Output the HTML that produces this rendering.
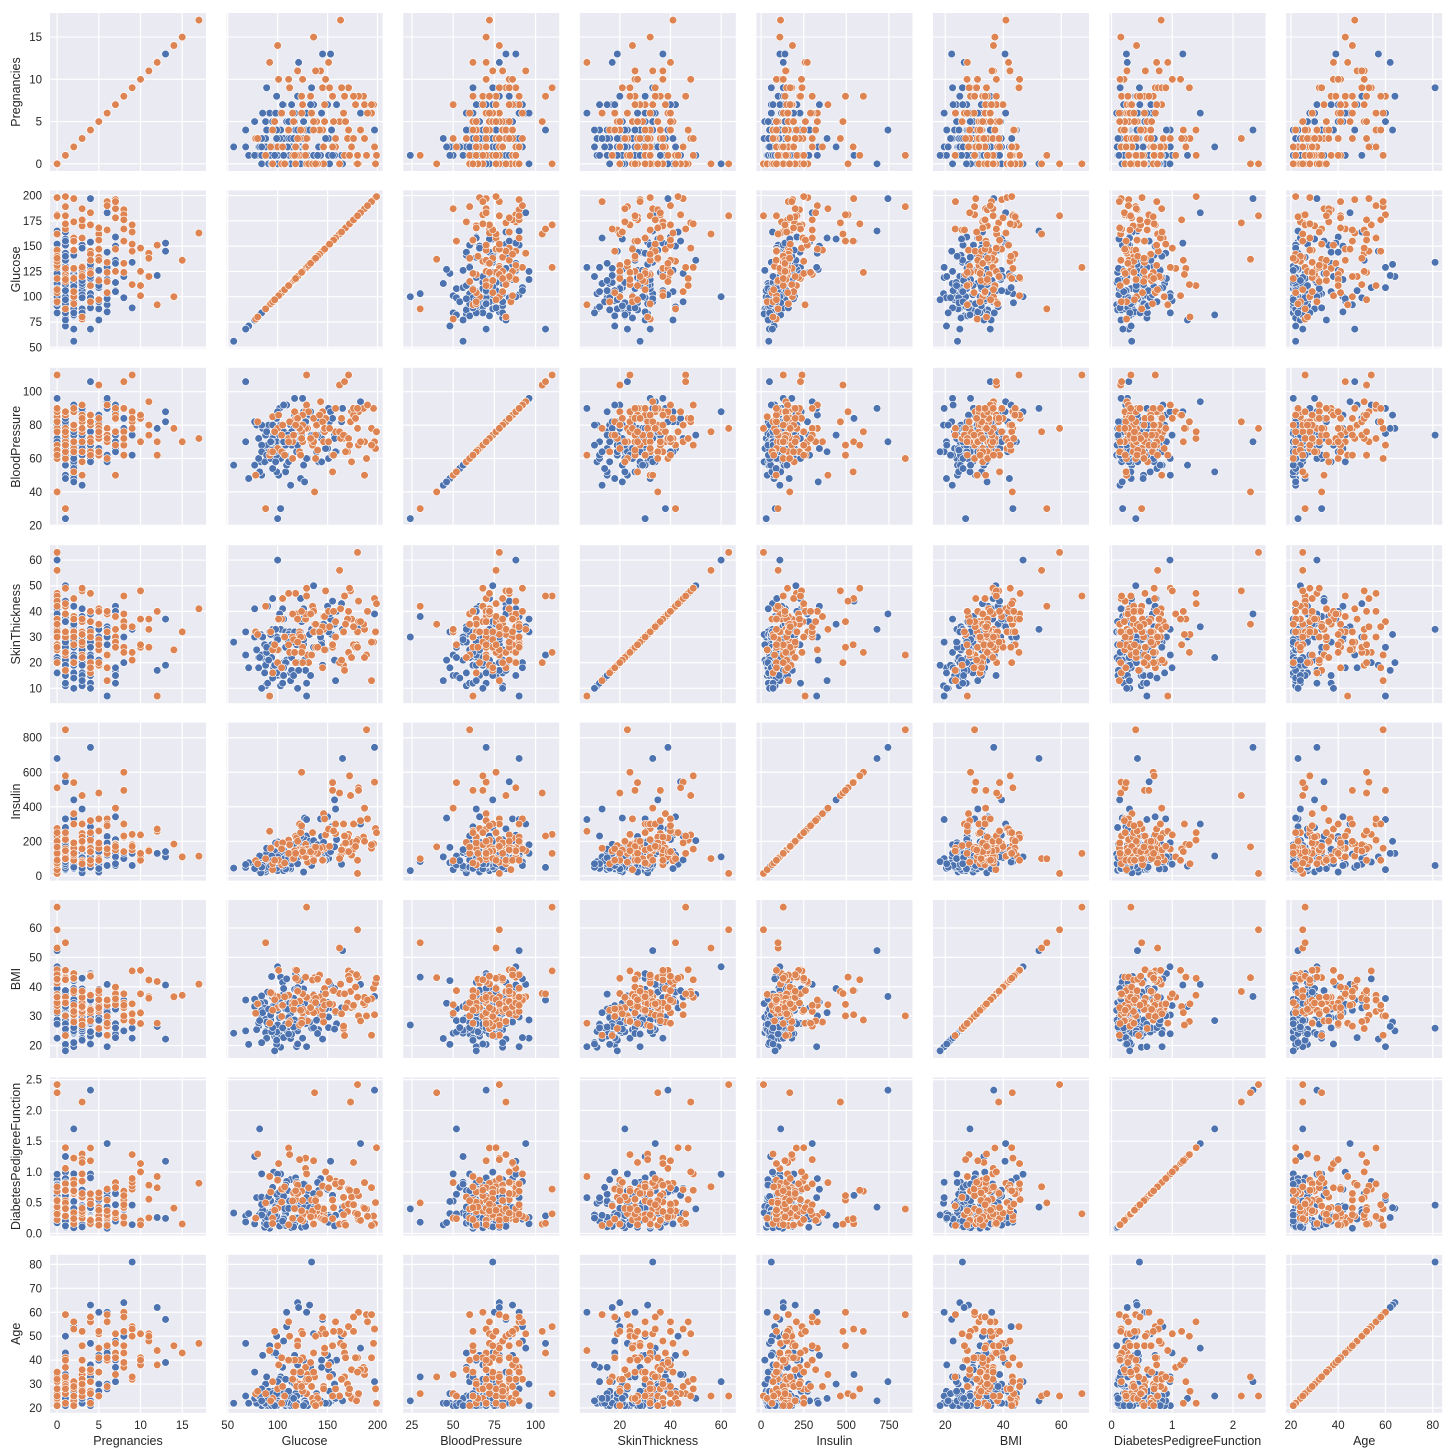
<!DOCTYPE html>
<html><head><meta charset="utf-8"><style>
html,body{margin:0;padding:0;background:#fff;}
svg{display:block;font-family:"Liberation Sans",sans-serif;}
</style></head><body>
<svg id="chart" width="1455" height="1454" viewBox="0 0 1455 1454"></svg>
<script>
const names=["Pregnancies","Glucose","BloodPressure","SkinThickness","Insulin","BMI","DiabetesPedigreeFunction","Age"];
const mins=[0,56,24,7,14,18.2,0.085,21];
const maxs=[17,198,110,63,846,67.1,2.42,81];
const ticksX=[[0,5,10,15],[50,100,150,200],[25,50,75,100],[20,40,60],[0,250,500,750],[20,40,60],[0,1,2],[20,40,60,80]];
const ticksY=[[0,5,10,15],[50,75,100,125,150,175,200],[20,40,60,80,100],[10,20,30,40,50,60],[0,200,400,600,800],[20,30,40,50,60,70],[0,0.5,1,1.5,2,2.5],[20,30,40,50,60,70,80]];
const tickFmtY=[0,0,0,0,0,0,1,0];
const tickFmtX=[0,0,0,0,0,0,0,0];
const rows=[
"1,89,66,23,94,28.1,0.167,21,0","0,137,40,35,168,43.1,2.288,33,1","3,78,50,32,88,31.0,0.248,26,1","2,197,70,45,543,30.5,0.158,53,1",
"1,189,60,23,846,30.1,0.398,59,1","5,166,72,19,175,25.8,0.587,51,1","0,118,84,47,230,45.8,0.551,31,1","1,103,30,38,83,43.3,0.183,33,0",
"1,115,70,30,96,34.6,0.529,32,1","3,126,88,41,235,39.3,0.704,27,0","11,143,94,33,146,36.6,0.254,51,1","10,125,70,26,115,31.1,0.205,41,1",
"1,97,66,15,140,23.2,0.487,22,0","13,145,82,19,110,22.2,0.245,57,0","3,158,76,36,245,31.6,0.851,28,1","3,88,58,11,54,24.8,0.267,22,0",
"4,103,60,33,192,24.0,0.966,33,0","9,171,110,24,240,45.4,0.721,54,1","1,103,80,11,82,19.4,0.491,22,0","1,101,50,15,36,24.2,0.526,26,0",
"5,88,66,21,23,24.4,0.342,30,0","7,150,66,42,342,34.7,0.718,42,0","2,100,66,20,90,32.9,0.867,28,1","0,105,64,41,142,41.5,0.173,22,0",
"2,141,58,34,128,25.4,0.699,24,0","5,109,75,26,36,36.0,0.546,60,0","2,56,56,28,45,24.2,0.332,22,0","4,197,70,39,744,36.7,2.329,31,0",
"9,134,74,33,60,25.9,0.460,81,0","0,129,110,46,130,67.1,0.319,26,1","0,180,78,63,14,59.4,2.420,25,1","3,173,82,48,465,38.4,2.137,25,1",
"17,163,72,41,114,40.9,0.817,47,1","15,136,70,32,110,37.1,0.153,43,1","14,100,78,25,184,36.6,0.412,46,1","12,92,62,7,258,27.6,0.926,44,1",
"0,165,90,33,680,52.3,0.427,23,0","1,100,24,30,30,27.0,0.400,23,0","4,68,106,23,49,35.5,0.285,47,0","0,162,76,56,100,53.2,0.759,25,1",
"3,130,78,23,79,28.4,0.323,34,1","8,99,84,30,100,35.4,0.388,50,0","2,90,68,42,120,38.2,0.503,27,0","1,81,72,18,40,26.6,0.283,24,0",
"6,92,62,32,126,32.0,0.085,46,0","0,84,64,22,66,35.8,0.545,21,0","2,108,62,32,56,25.2,0.128,21,0","4,111,72,47,207,37.1,1.390,56,1",
"1,71,48,18,76,20.4,0.323,22,0","2,84,50,23,76,30.4,0.968,21,0","3,120,70,30,135,42.9,0.452,30,0","1,122,64,32,156,35.1,0.692,30,1",
"8,155,62,26,495,34.0,0.543,46,1","2,128,78,37,182,43.3,1.224,31,1","7,196,90,28,185,39.5,0.283,47,1","1,87,78,27,32,34.6,0.101,22,0",
"0,95,85,25,36,37.4,0.247,24,1","4,99,76,15,51,23.2,0.223,21,0","2,146,70,38,360,28.0,0.337,29,1","5,139,80,35,160,31.6,0.361,25,1",
"3,80,82,31,70,34.2,1.292,27,1","0,146,82,33,90,35.0,0.4,28,1",
"7,147,76,38,160,39.4,0.257,43,1","1,119,86,39,220,45.6,0.808,29,1","2,108,52,26,63,32.5,0.318,22,0","5,117,86,30,105,39.1,0.251,42,0",
"9,145,88,34,165,30.3,0.771,53,1","6,115,60,39,130,33.7,0.245,40,1","1,91,64,24,70,29.2,0.192,21,0","2,120,76,37,105,39.7,0.215,29,0",
"1,100,66,29,196,32.0,0.444,42,0","0,101,76,25,86,35.9,0.586,22,0","3,106,72,20,30,25.6,0.253,27,0","5,126,78,27,22,29.6,0.439,40,0",
"6,134,70,23,130,35.4,0.542,29,1","1,96,74,18,67,33.6,0.997,43,0",
"2,174,88,37,120,44.5,0.646,24,1","7,187,50,33,392,33.9,0.826,34,1","2,93,64,32,160,38.0,0.674,23,1","4,154,62,31,284,32.8,0.237,23,0",
"0,181,88,44,510,43.3,0.222,26,1","8,186,90,35,225,34.5,0.423,37,1","1,128,88,39,110,36.5,1.057,37,1","2,112,75,32,40,35.7,0.148,21,0",
"1,130,60,23,170,28.6,0.692,21,0","3,129,92,49,155,36.4,0.968,32,1","4,129,60,12,231,27.5,0.527,31,0","8,124,76,24,600,28.7,0.687,52,1",
"1,109,56,21,135,25.2,0.833,23,0","0,131,88,20,140,31.6,0.743,32,1",
"1,79,80,25,37,25.4,0.583,22,0","2,99,52,15,94,24.6,0.637,21,0","6,194,78,13,160,23.5,0.129,59,1",
"3,83,58,31,18,34.3,0.336,25,0","0,198,66,32,274,41.3,0.502,28,1","1,167,74,17,144,23.4,0.447,33,1","2,157,74,35,440,39.4,0.134,30,0",
"4,95,64,16,70,32.0,0.161,31,1","7,136,74,26,135,26.0,0.647,51,0","0,113,80,16,40,31.0,0.874,21,0",
"3,111,58,31,44,29.5,0.430,22,0","5,162,104,20,480,37.7,0.151,52,1",
"2,87,58,16,52,32.7,0.166,25,0","1,116,78,29,180,36.1,0.496,25,0","0,141,84,26,180,32.4,0.433,22,0",
"11,120,80,37,150,42.3,0.785,48,1","3,174,58,22,194,32.9,0.593,36,1","4,144,58,28,140,29.5,0.287,37,0","0,93,60,25,92,28.7,0.532,22,0",
"2,88,74,19,53,29.0,0.229,22,0","5,95,72,33,68,37.7,0.370,27,0","6,102,90,39,120,35.7,0.674,28,0",
"1,164,82,43,67,32.8,0.341,50,0","7,125,86,30,150,37.6,0.304,51,1",
"9,112,82,24,180,28.2,1.282,50,1","1,143,86,30,330,30.1,0.892,23,0","0,127,80,37,210,36.3,0.804,23,0",
"7,194,68,28,180,35.9,0.745,41,1","10,148,84,48,237,37.6,1.001,51,1","2,123,48,32,165,42.1,0.520,26,0",
"4,94,65,22,50,24.7,0.148,21,0","1,77,56,30,56,33.3,1.251,24,0","8,120,78,20,130,25.0,0.409,64,0",
"12,151,70,40,271,41.8,0.742,38,1","6,144,72,27,228,33.9,0.255,40,0","0,104,64,37,64,33.6,0.510,22,1","3,84,68,30,106,31.9,0.591,25,0",
"4,132,86,31,200,28.0,0.419,63,0","2,81,60,22,50,27.7,0.290,25,0",
"5,139,64,35,140,28.6,0.411,26,0","6,183,94,34,300,40.8,1.461,45,0",
"1,124,74,36,280,27.8,0.100,30,0","8,181,68,36,495,30.1,0.615,60,1","3,102,74,16,90,29.5,0.121,32,0",
"1,180,78,32,210,43.3,0.282,41,1","0,100,88,60,110,46.8,0.962,31,0","2,105,80,45,191,33.7,0.711,29,1",
"7,159,64,40,210,27.4,0.294,40,0","3,113,44,13,110,22.4,0.140,22,0","4,125,80,20,140,32.3,0.536,27,1",
"6,104,74,18,156,29.9,0.722,41,1","5,136,84,41,88,35.0,0.286,35,1","0,119,66,27,110,38.8,0.259,22,0",
"2,158,90,30,300,31.6,0.805,56,1","1,90,62,12,43,27.2,0.580,24,0","2,114,68,22,70,28.7,0.092,25,0",
"3,170,64,37,225,34.5,0.356,30,1","1,88,30,42,99,55.0,0.496,26,1","4,145,82,18,90,32.5,0.235,58,1",
"5,116,74,29,100,32.3,0.660,35,1","0,179,90,27,200,44.1,0.686,23,1",
"2,99,70,16,44,20.4,0.235,27,0","1,107,68,19,60,26.5,0.165,24,0","6,85,78,30,60,31.2,0.382,42,0",
"0,135,68,42,250,42.3,0.365,24,1","3,151,90,38,100,29.7,0.294,36,0","1,151,60,32,130,26.1,0.179,22,0",
"0,91,80,21,50,32.4,0.601,27,0","10,101,86,37,90,45.6,1.136,38,1",
"2,107,74,30,100,33.6,0.404,23,0","1,136,74,50,204,37.4,0.399,24,0","4,118,70,30,110,44.5,0.904,26,0",
"0,125,96,37,180,22.5,0.262,21,0","3,187,70,22,200,36.4,0.408,36,1","5,147,78,25,330,33.7,0.218,45,1",
"7,114,76,17,110,23.8,0.466,31,0","1,112,72,30,176,34.4,0.528,25,0","2,155,52,27,540,38.7,0.240,25,1","6,190,92,40,330,35.5,0.278,56,1",
"4,142,86,32,160,44.0,0.645,22,1","2,109,92,20,80,42.7,0.845,54,0",
"0,95,80,45,92,36.5,0.330,26,0","1,84,64,23,115,36.9,0.471,28,0","9,89,62,24,130,22.5,0.142,33,0",
"3,122,78,31,300,27.0,1.200,40,1","8,167,106,46,231,37.6,0.165,43,1","1,199,76,43,250,42.9,1.394,22,1",
"2,127,46,21,335,34.4,0.176,22,0","5,77,82,41,42,35.8,0.156,35,0","0,94,70,27,115,43.5,0.347,21,0","13,153,88,37,140,40.6,1.174,39,0",
"6,129,90,7,326,19.6,0.582,60,0","4,89,76,26,160,28.0,0.268,33,0","1,128,82,17,183,27.5,0.115,22,0",
"0,123,72,45,230,33.6,0.733,34,0","3,176,86,27,156,33.3,1.154,52,1","11,138,74,26,144,36.1,0.557,50,1",
"2,82,52,22,115,28.5,1.699,25,0","1,93,70,31,60,30.4,0.315,23,0","7,178,84,26,170,39.9,0.331,41,1",
"0,140,65,26,130,42.6,0.431,24,1","4,136,70,40,140,31.2,1.182,22,1","2,68,70,32,66,25.0,0.187,25,0",
"1,117,88,24,145,34.5,0.403,40,1","3,148,66,25,90,32.5,0.256,22,0","6,117,96,32,130,28.7,0.157,30,0",
"0,152,82,39,272,41.5,0.270,27,0","5,156,62,40,260,38.7,0.420,52,1","1,106,76,15,70,37.5,0.197,26,0",
"8,133,72,39,140,32.9,0.270,39,1","2,119,64,28,100,19.6,0.832,25,0",
"6,166,74,32,300,26.6,0.304,46,1","4,171,72,40,140,43.6,0.479,26,1",
"1,140,74,26,180,24.1,0.828,23,0","12,121,78,17,130,26.5,0.259,62,0","2,95,54,14,88,26.1,0.748,22,0",
"5,168,64,35,190,32.9,0.135,41,1","0,108,68,20,40,27.3,0.787,32,0",
"1,126,56,29,152,28.7,0.801,21,0","3,99,62,19,74,21.8,0.279,26,0","9,164,84,21,150,30.8,0.831,32,1",
"7,106,92,18,60,22.7,0.235,48,0","1,172,68,49,579,42.4,0.702,28,1","2,110,74,29,125,32.4,0.698,27,0",
"4,123,62,30,250,32.0,0.226,35,1","0,138,60,35,167,34.6,0.534,21,1","5,111,72,28,100,23.9,0.407,27,0",
"3,120,84,28,200,38.5,0.650,46,1","1,116,70,28,120,27.4,0.204,21,0",
"8,176,90,34,300,33.7,0.467,58,1","0,107,62,30,74,36.6,0.757,25,1","2,146,76,35,194,38.2,0.329,29,0",
"1,157,72,21,168,25.6,0.123,24,0","4,183,70,36,320,28.4,0.212,36,1","3,116,74,15,105,26.3,0.107,24,0",
"7,105,70,12,70,26.0,0.2,37,0","0,180,90,26,90,36.5,0.314,35,1","6,124,72,40,290,27.6,0.368,29,1",
"10,111,70,27,130,27.5,0.141,40,1","2,84,80,10,50,21.0,0.3,23,0","5,97,76,27,90,35.6,0.378,52,1",
"1,97,64,19,82,18.2,0.299,21,0","4,120,68,10,70,20.5,0.25,38,0","7,133,88,15,155,32.4,0.262,37,0",
"2,118,80,20,130,42.9,0.693,21,1","0,106,70,37,148,39.4,0.605,22,0","9,152,78,34,171,34.2,0.893,33,1",
"1,155,84,44,545,38.7,0.619,34,0","3,158,64,13,387,31.2,0.295,24,0","6,98,58,33,190,34.0,0.430,43,0"
];
const data=rows.map(r=>r.split(",").map(Number));
</script>
<script>
const svg=document.getElementById('chart');
const NS='http://www.w3.org/2000/svg';
const X0=50,Y0=13,PW=156,PH=158,DX=176.6,DY=177.4;
function mk(tag,attrs,parent){const e=document.createElementNS(NS,tag);for(const k in attrs)e.setAttribute(k,attrs[k]);(parent||svg).appendChild(e);return e;}
function lo(i){const r=maxs[i]-mins[i];return mins[i]-0.05*r;}
function hi(i){const r=maxs[i]-mins[i];return maxs[i]+0.05*r;}
function sx(i,c,v){return X0+c*DX+(v-lo(i))/(hi(i)-lo(i))*PW;}
function sy(i,r,v){return Y0+r*DY+PH-(v-lo(i))/(hi(i)-lo(i))*PH;}
for(let r=0;r<8;r++){for(let c=0;c<8;c++){
  const g=mk('g',{});
  
  
  const px=X0+c*DX,py=Y0+r*DY;
  const bg=mk('rect',{x:px,y:py,width:PW,height:PH,fill:'#EAEAF2'},g);
  
  
  ticksX[c].forEach(t=>{const x=sx(c,c,t);if(x>=px&&x<=px+PW){const l=mk('line',{x1:x,x2:x,y1:py,y2:py+PH,stroke:'#fff','stroke-width':1.2},g);}});
  ticksY[r].forEach(t=>{const y=sy(r,r,t);if(y>=py&&y<=py+PH){const l=mk('line',{x1:px,x2:px+PW,y1:y,y2:y,stroke:'#fff','stroke-width':1.2},g);}});
  [0,1].forEach(o=>{data.forEach(d=>{if(d[8]!==o)return;
    const p=mk('circle',{cx:sx(c,c,d[c]),cy:sy(r,r,d[r]),r:3.8,fill:o?'#DD8452':'#4C72B0',stroke:'#fff','stroke-width':0.6},g);
    
    
  });});
  if(c===0){ticksY[r].forEach(t=>{const y=sy(r,r,t);if(y>=py&&y<=py+PH){const tx=mk('text',{x:px-8,y:y+4,'text-anchor':'end','font-size':11.5,fill:'#262626'},g);tx.textContent=tickFmtY[r]?t.toFixed(1):String(t);}});
    const yl=mk('text',{x:0,y:0,transform:`translate(20,${py+PH/2}) rotate(-90)`,'text-anchor':'middle','font-size':12.5,fill:'#262626'},g);yl.textContent=names[r];}
  if(r===7){ticksX[c].forEach(t=>{const x=sx(c,c,t);if(x>=px&&x<=px+PW){const tx=mk('text',{x:x,y:py+PH+16,'text-anchor':'middle','font-size':11.5,fill:'#262626'},g);tx.textContent=tickFmtX[c]?t.toFixed(1):String(t);}});
    const xl=mk('text',{x:px+PW/2,y:py+PH+32,'text-anchor':'middle','font-size':12.5,fill:'#262626'},g);xl.textContent=names[c];}
}}
</script>
</body></html>
